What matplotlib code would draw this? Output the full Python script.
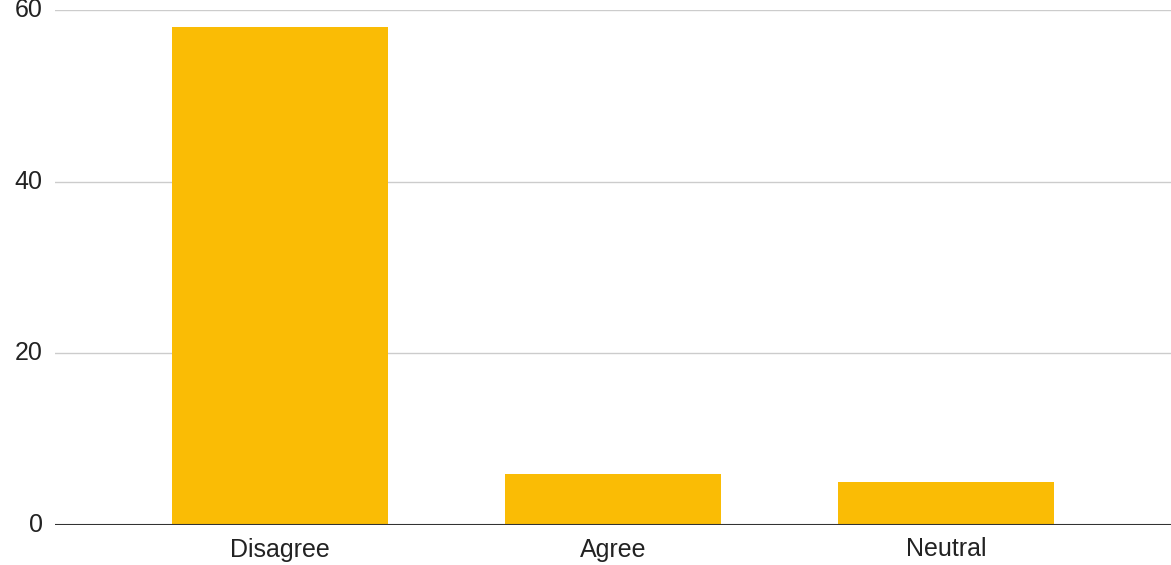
import matplotlib
matplotlib.use("Agg")
import matplotlib.pyplot as plt

categories = ["Disagree", "Agree", "Neutral"]
values = [58, 6, 5]
yticks = [0, 20, 40, 60]

plt.rcParams['font.family'] = ['Liberation Sans', 'DejaVu Sans']

fig = plt.figure(figsize=(11.71, 5.65), dpi=100)
ax = fig.add_axes([55/1171, 40/565, 1 - 55/1171, 515/565])

x = list(range(len(categories)))
ax.bar(x, values, width=0.649, color="#FABC05", zorder=3)

ax.set_xlim(-0.6757, 2.6757)
ax.set_ylim(0, 60)
ax.set_yticks(yticks)
ax.set_yticklabels([str(v) for v in yticks])
ax.set_xticks(x)
ax.set_xticklabels(categories)

ax.grid(axis='y', color="#cccccc", linewidth=1, zorder=0)
ax.axhline(0, color="#333333", linewidth=1.5, zorder=4)
for s in ax.spines.values():
    s.set_visible(False)
ax.tick_params(axis='both', length=0, labelsize=18, colors="#222222")
ax.tick_params(axis='y', pad=9)
ax.tick_params(axis='x', pad=9)
for lbl in ax.get_yticklabels():
    lbl.set_verticalalignment('center')

fig.savefig("out.png", dpi=100, facecolor="white")
